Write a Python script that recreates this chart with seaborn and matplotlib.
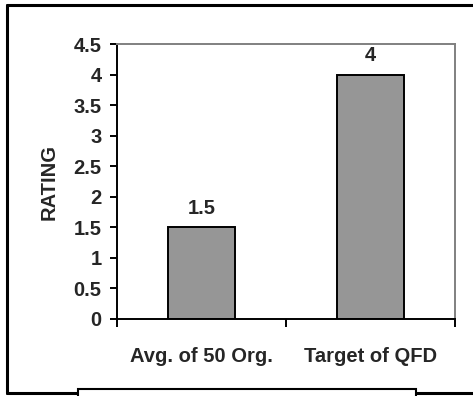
import matplotlib
matplotlib.use("Agg")
import matplotlib.pyplot as plt
import seaborn as sns
import pandas as pd
from matplotlib.patches import Rectangle
from matplotlib.lines import Line2D

categories = ["Avg. of 50 Org.", "Target of QFD"]
values = [1.5, 4]
value_labels = ["1.5", "4"]
yticks = [0, 0.5, 1, 1.5, 2, 2.5, 3, 3.5, 4, 4.5]
ytick_labels = ["0", "0.5", "1", "1.5", "2", "2.5", "3", "3.5", "4", "4.5"]

sns.set_style("white")
plt.rcParams["font.family"] = ["Liberation Sans", "DejaVu Sans"]
plt.rcParams["font.weight"] = "bold"

FS = 14.5
W, H = 473, 396
fig = plt.figure(figsize=(W / 100, H / 100), dpi=100)
ax = fig.add_axes([117 / W, 1 - 319 / H, (455 - 117) / W, (319 - 44) / H])

df = pd.DataFrame({"cat": categories, "val": values})
sns.barplot(data=df, x="cat", y="val", color="#969696", width=0.4,
            edgecolor="black", linewidth=1.4, saturation=1, ax=ax)

ax.set_xlim(-0.5, 1.5)
ax.set_ylim(0, 4.5)
ax.set_yticks(yticks)
ax.set_yticklabels(ytick_labels, fontsize=FS, fontweight="bold")
ax.set_xticks([0, 1])
ax.set_xticklabels(categories, fontsize=FS, fontweight="bold")
ax.set_xticks([-0.5, 0.5, 1.5], minor=True)
ax.tick_params(axis="x", which="major", length=0, pad=20)
ax.tick_params(axis="x", which="minor", length=5.5, width=1.4, color="black", direction="out", bottom=True)
ax.tick_params(axis="y", length=5, width=1.4, color="black", direction="out", left=True, pad=6)
ax.set_xlabel("")
ax.set_ylabel("RATING", fontsize=14.5, fontweight="bold", labelpad=11)

for side in ["left", "bottom"]:
    ax.spines[side].set_color("black")
    ax.spines[side].set_linewidth(1.4)
for side in ["top", "right"]:
    ax.spines[side].set_visible(True)
    ax.spines[side].set_color("#808080")
    ax.spines[side].set_linewidth(1.4)

for i, (v, lab) in enumerate(zip(values, value_labels)):
    ax.annotate(lab, (i, v), xytext=(0, 7), textcoords="offset points",
                ha="center", va="bottom", fontsize=FS, fontweight="bold")

def fx(px):
    return px / W
def fy(py):
    return 1 - py / H

lw = 2.2
fig.add_artist(Line2D([fx(7), fx(480)], [fy(5), fy(5)], color="black", lw=lw, transform=fig.transFigure))
fig.add_artist(Line2D([fx(7), fx(7)], [fy(5), fy(393)], color="black", lw=lw, transform=fig.transFigure))
fig.add_artist(Line2D([fx(7), fx(480)], [fy(393), fy(393)], color="black", lw=lw, transform=fig.transFigure))
fig.add_artist(Rectangle((fx(78), fy(402)), fx(416) - fx(78), fy(389) - fy(402),
                         facecolor="white", edgecolor="black", lw=1.5,
                         transform=fig.transFigure, zorder=5))

fig.savefig("out.png", dpi=100)
